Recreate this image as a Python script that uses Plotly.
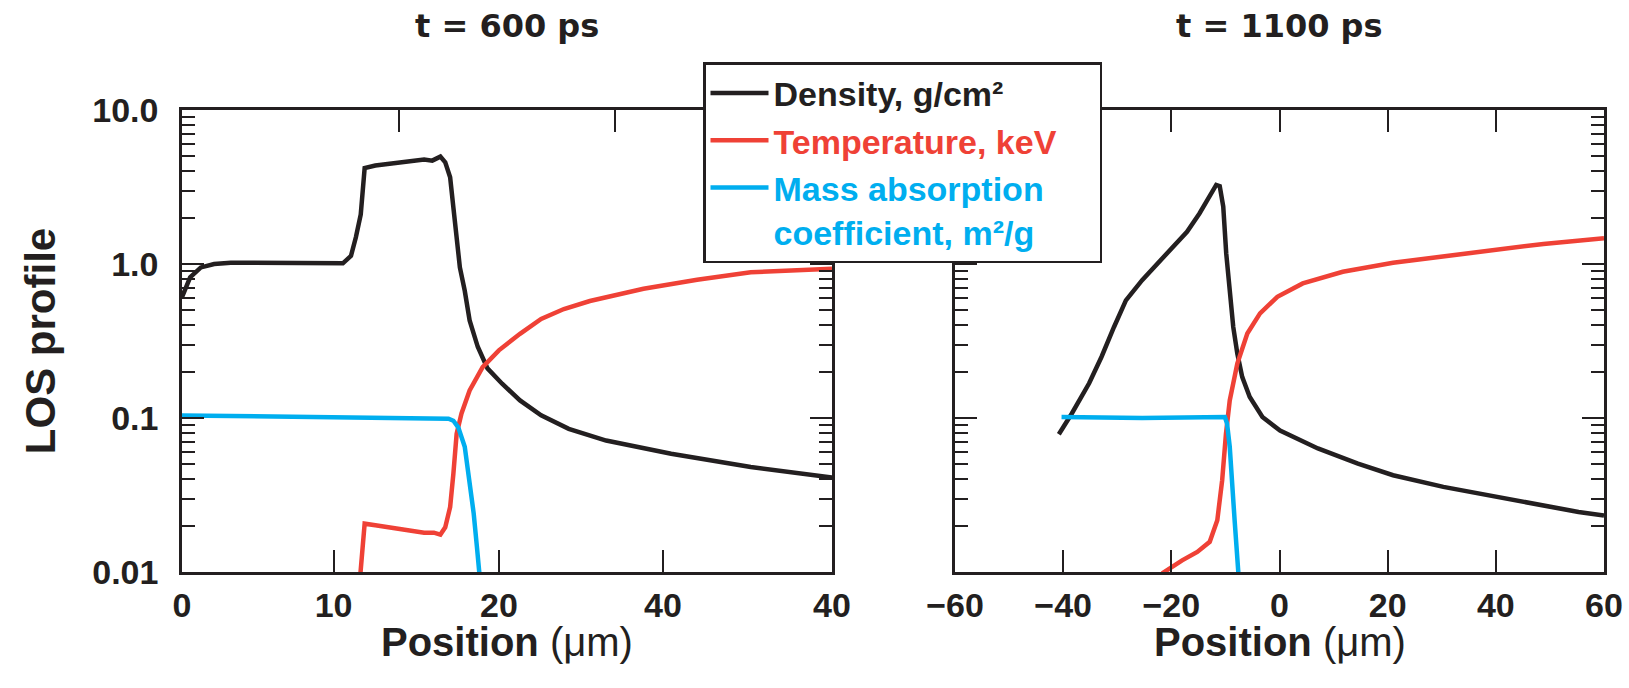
import plotly.graph_objects as go

# ---------------- data (axis units) ----------------
# t = 600 ps panel (x in axis units, 0..40 linear along the panel)
x600_density = [0.0, 0.5, 1.16, 1.98, 3.0, 9.9, 10.4, 10.7, 11.0, 11.17, 11.24, 11.9, 13.9, 14.9, 15.4, 15.9,
                16.2, 16.5, 16.7, 16.9, 17.1, 17.4, 17.7, 18.2, 18.8, 19.7, 20.8, 22.1, 23.8, 26.1, 30.1, 35.0, 40.0]
y600_density = [0.61, 0.82, 0.95, 1.0, 1.02, 1.01, 1.13, 1.49, 2.1, 3.47, 4.2, 4.36, 4.6, 4.77, 4.69, 4.98,
                4.57, 3.66, 2.33, 1.49, 0.95, 0.67, 0.43, 0.29, 0.21, 0.167, 0.13, 0.104, 0.085, 0.0714, 0.0586, 0.048, 0.041]
x600_temp = [10.98, 11.24, 11.9, 14.9, 15.5, 15.9, 16.2, 16.5, 16.7, 16.9, 17.2, 17.7, 18.5, 19.5, 20.8, 22.1,
             23.5, 25.1, 28.4, 31.7, 35.0, 40.0]
y600_temp = [0.0098, 0.0206, 0.0201, 0.018, 0.018, 0.0175, 0.0195, 0.0264, 0.0435, 0.079, 0.107, 0.151, 0.214,
             0.275, 0.352, 0.44, 0.51, 0.575, 0.69, 0.79, 0.885, 0.93]
x600_mac = [0.0, 9.9, 16.4, 16.7, 17.0, 17.4, 17.7, 17.95, 18.15, 18.3]
y600_mac = [0.104, 0.1, 0.099, 0.096, 0.087, 0.065, 0.039, 0.024, 0.0145, 0.0098]

# t = 1100 ps panel (x in micrometres)
x1100_density = [-40.8, -38.4, -35.2, -32.9, -30.6, -28.4, -25.4, -22.7, -19.4, -17.1, -14.8, -12.9, -11.7, -11.05,
                 -10.4, -9.85, -9.2, -8.55, -7.8, -6.9, -5.5, -3.16, 0.1, 7.1, 14.5, 21.0, 30.3, 39.6, 48.8, 55.3, 60.0]
y1100_density = [0.0785, 0.107, 0.168, 0.25, 0.39, 0.58, 0.785, 1.0, 1.33, 1.62, 2.13, 2.8, 3.26, 3.2,
                 2.36, 1.17, 0.644, 0.39, 0.262, 0.185, 0.137, 0.1015, 0.083, 0.0634, 0.0506, 0.0425, 0.0357,
                 0.031, 0.027, 0.0245, 0.0233]
x1100_temp = [-21.7, -18.0, -15.2, -12.9, -11.5, -10.6, -9.9, -9.2, -7.8, -5.95, -3.6, -0.4, 4.3, 11.7, 21.0,
              34.9, 48.8, 60.0]
y1100_temp = [0.0098, 0.0119, 0.0135, 0.0157, 0.0217, 0.0394, 0.079, 0.13, 0.226, 0.354, 0.478, 0.612, 0.748,
              0.89, 1.02, 1.18, 1.35, 1.47]
x1100_mac = [-40.3, -25.4, -10.1, -9.7, -9.2, -8.7, -8.3, -7.6]
y1100_mac = [0.1016, 0.1, 0.1015, 0.092, 0.065, 0.039, 0.0217, 0.0098]

# tick labels
left_x_tickvals = [0, 9.33, 19.5, 29.6, 40]
left_x_ticktext = ["0", "10", "20", "40", "40"]
left_top_tickvals = [13.33, 26.67]
y_tickvals = [0.01, 0.1, 1, 10]
y_ticktext = ["0.01", "0.1", "1.0", "10.0"]
y_minor = [m * 10 ** e for e in (-2, -1, 0) for m in range(2, 10)]

BLACK = "#231f20"
RED = "#ef4136"
BLUE = "#00aeef"
FONT = "Liberation Sans, Arial, Helvetica, sans-serif"
WIDE = "DejaVu Sans, Liberation Sans, sans-serif"
NB = "\u00a0"

names = {
    "d": "<span style='color:%s'>Density, g/cm²</span>" % BLACK,
    "t": "<span style='color:%s'>Temperature, keV</span>%s" % (RED, NB * 4),
    "m": "<span style='color:%s'>Mass absorption<br>coefficient, m²/g</span>" % BLUE,
}

fig = go.Figure()
series = [
    (x600_density, y600_density, BLACK, "d", "x", "y", True, 4.5),
    (x600_temp, y600_temp, RED, "t", "x", "y", True, 4.5),
    (x600_mac, y600_mac, BLUE, "m", "x", "y", True, 4.5),
    (x1100_density, y1100_density, BLACK, "d", "x2", "y2", False, 4.5),
    (x1100_temp, y1100_temp, RED, "t", "x2", "y2", False, 4.5),
    (x1100_mac, y1100_mac, BLUE, "m", "x2", "y2", False, 4.5),
]
for xs, ys, col, key, xa, ya, show, w in series:
    fig.add_trace(go.Scatter(x=xs, y=ys, mode="lines", line=dict(color=col, width=w),
                             name=names[key], legendgroup=key, showlegend=show,
                             xaxis=xa, yaxis=ya, hoverinfo="skip"))
# carrier trace for the top tick axis of the left panel
fig.add_trace(go.Scatter(x=[None], y=[None], xaxis="x3", yaxis="y", showlegend=False, hoverinfo="skip"))

W, H = 1629, 688
L1, R1 = 182 / W, 832 / W
L2, R2 = 955 / W, 1604 / W
B, T = 1 - 572 / H, 1 - 110 / H

tickfont = dict(family=FONT, size=34, color=BLACK, weight="bold")
titlefont = dict(family=FONT, size=40, color=BLACK, weight="bold")
common_x = dict(ticks="inside", ticklen=22, tickwidth=2, tickcolor=BLACK, showline=True, linewidth=2.5,
                linecolor=BLACK, showgrid=False, zeroline=False, tickfont=tickfont, ticklabelstandoff=1,
                automargin=False)
common_y = dict(type="log", range=[-2, 1], tickvals=y_tickvals, ticktext=y_ticktext, ticks="inside",
                ticklen=22, tickwidth=2, tickcolor=BLACK, showline=True, linewidth=2.5, linecolor=BLACK,
                mirror="ticks", showgrid=False, zeroline=False, tickfont=tickfont, ticklabelstandoff=14,
                automargin=False,
                minor=dict(tickvals=y_minor, ticks="inside", ticklen=13, tickwidth=2, tickcolor=BLACK,
                           showgrid=False))

xtitle = "Position <span style='font-weight:normal'>(μm)</span>"
fig.update_layout(
    width=W, height=H, margin=dict(l=0, r=0, t=0, b=0), paper_bgcolor="white", plot_bgcolor="white",
    xaxis=dict(domain=[L1, R1], range=[0, 40], tickvals=left_x_tickvals, ticktext=left_x_ticktext,
               anchor="y", **common_x),
    xaxis3=dict(domain=[L1, R1], range=[0, 40], overlaying="x", side="top", anchor="y",
                tickvals=left_top_tickvals, showticklabels=False, ticks="inside", ticklen=22, tickwidth=2,
                tickcolor=BLACK, showline=True, linewidth=2.5, linecolor=BLACK, showgrid=False, zeroline=False,
                automargin=False),
    xaxis2=dict(domain=[L2, R2], range=[-60, 60], tick0=0, dtick=20, anchor="y2", mirror="ticks",
                **common_x),
    yaxis=dict(domain=[B, T], anchor="x", title=dict(text="LOS profile", font=dict(family=FONT, size=42,
               color=BLACK, weight="bold"), standoff=24), **common_y),
    yaxis2=dict(domain=[B, T], anchor="x2", showticklabels=False, **common_y),
    showlegend=True,
    legend=dict(x=703 / W, y=1 - 62 / H, xanchor="left", yanchor="top", bgcolor="white",
                bordercolor=BLACK, borderwidth=2.5, valign="top", tracegroupgap=0, itemwidth=58,
                font=dict(family=FONT, size=34, color=BLACK, weight="bold")),
    annotations=[
        dict(text="t = 600 ps", x=(L1 + R1) / 2, y=1 - 26 / H, xref="paper", yref="paper", showarrow=False,
             xanchor="center", yanchor="middle",
             font=dict(family=WIDE, size=32, color=BLACK, weight="bold")),
        dict(text="t = 1100 ps", x=(L2 + R2) / 2, y=1 - 26 / H, xref="paper", yref="paper", showarrow=False,
             xanchor="center", yanchor="middle",
             font=dict(family=WIDE, size=32, color=BLACK, weight="bold")),
        dict(text=xtitle, x=(L1 + R1) / 2, y=1 - 642 / H, xref="paper", yref="paper", showarrow=False,
             xanchor="center", yanchor="middle", font=titlefont),
        dict(text=xtitle, x=(L2 + R2) / 2, y=1 - 642 / H, xref="paper", yref="paper", showarrow=False,
             xanchor="center", yanchor="middle", font=titlefont),
    ],
)

fig.write_html("out.html")
